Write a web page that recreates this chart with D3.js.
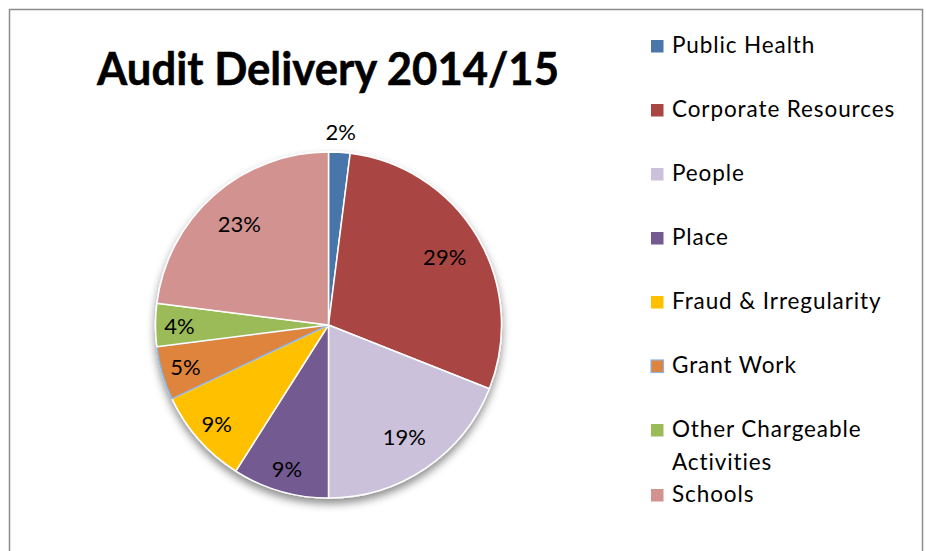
<!DOCTYPE html>
<html>
<head>
<meta charset="utf-8">
<script src="https://cdn.jsdelivr.net/npm/d3@7"></script>
<style>
  html, body { margin: 0; padding: 0; background: #fff; }
  svg { display: block; }
  text { font-family: Lato, "Noto Sans", sans-serif; fill: #000; }
</style>
</head>
<body>
<svg id="chart" width="926" height="551"></svg>
<script>
const categories = ["Public Health", "Corporate Resources", "People", "Place", "Fraud & Irregularity", "Grant Work", "Other Chargeable Activities", "Schools"];
const values = [2, 29, 19, 9, 9, 5, 4, 23];
const colors = ["#4A76AA", "#A94542", "#CBC1DA", "#735A91", "#FFC000", "#DF843E", "#9BBB59", "#D29290"];
const legendLines = [["Public Health"], ["Corporate Resources"], ["People"], ["Place"], ["Fraud & Irregularity"], ["Grant Work"], ["Other Chargeable", "Activities"], ["Schools"]];
const title = "Audit Delivery 2014/15";

const svg = d3.select("#chart");
const defs = svg.append("defs");
const f = defs.append("filter").attr("id", "shadow").attr("x", "-20%").attr("y", "-20%").attr("width", "140%").attr("height", "140%");
f.append("feDropShadow").attr("dx", 0).attr("dy", 5).attr("stdDeviation", 4).attr("flood-color", "#000").attr("flood-opacity", 0.45);

// frame
svg.append("rect").attr("x", 9.5).attr("y", 9.5).attr("width", 913).attr("height", 560)
  .attr("fill", "#fff").attr("stroke", "#8c8c8c").attr("stroke-width", 1.5);

// title
svg.append("text").attr("x", 97).attr("y", 85).attr("font-size", 45).attr("font-weight", "bold")
  .attr("stroke", "#000").attr("stroke-width", 0.5)
  .attr("textLength", 462).attr("lengthAdjust", "spacingAndGlyphs").text(title);

const cx = 328.5, cy = 325, r = 173;
const data = categories.map((c, i) => ({ cat: c, value: values[i], color: colors[i] }));
const pie = d3.pie().value(d => d.value).sort(null);
const arcs = pie(data);
const arc = d3.arc().innerRadius(0).outerRadius(r);

const g = svg.append("g").attr("transform", `translate(${cx},${cy})`);
const pieG = g.append("g").attr("filter", "url(#shadow)");
pieG.selectAll("path").data(arcs).join("path")
  .attr("d", arc)
  .attr("fill", d => d.data.color)
  .attr("stroke", d => d.data.cat === "Grant Work" ? "#8DB4E2" : "#fff")
  .attr("stroke-width", 1.5)
  .attr("stroke-linejoin", "round");

const total = d3.sum(values);
g.selectAll("text.lbl").data(arcs).join("text")
  .attr("class", "lbl")
  .attr("font-size", 22)
  .attr("text-anchor", "middle")
  .attr("dominant-baseline", "central")
  .attr("transform", d => {
    const a = (d.startAngle + d.endAngle) / 2;
    const p = d.data.value / total;
    const rr = p < 0.03 ? 194 : (p < 0.1 ? 149 : 135);
    return `translate(${Math.sin(a) * rr},${-Math.cos(a) * rr})`;
  })
  .text(d => Math.round(d.data.value / total * 100) + "%");

// legend
const lg = svg.append("g");
const item = lg.selectAll("g").data(data).join("g")
  .attr("transform", (d, i) => `translate(651,${53 + i * 64})`);
item.append("rect").attr("x", 0).attr("y", -13).attr("width", 12.5).attr("height", 12.5)
  .attr("fill", d => d.color)
  .attr("stroke", d => d.cat === "Grant Work" ? "#8DB4E2" : "none").attr("stroke-width", 1.2);
item.append("text").attr("x", 21).attr("y", 0).attr("font-size", 22.5).attr("letter-spacing", 0.9)
  .selectAll("tspan").data((d, i) => legendLines[i]).join("tspan")
  .attr("x", 21).attr("dy", (d, j) => j === 0 ? 0 : 33).text(d => d);
item.filter((d, i) => i === 7).attr("transform", `translate(651,502)`);
</script>
</body>
</html>
